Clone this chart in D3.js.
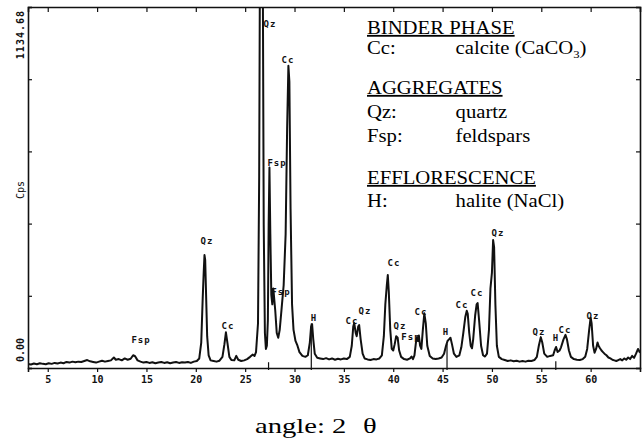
<!DOCTYPE html>
<html>
<head>
<meta charset="utf-8">
<script src="https://cdn.jsdelivr.net/npm/d3@7/dist/d3.min.js"></script>
<style>
  body { margin: 0; background: #fff; }
  .mono { font-family: "DejaVu Sans Mono", monospace; font-weight: bold; fill: #111; }
  .serif { font-family: "Liberation Serif", "Times New Roman", serif; fill: #000; }
</style>
</head>
<body>
<svg id="chart" width="644" height="446"></svg>
<script>
// XRD trace: [2 theta, counts per second]
var trace = [
  [3.0,13],[3.3,11],[3.6,14],[3.9,12],[4.2,15],[4.5,13],[4.8,12],[5.1,15],[5.4,13],[5.7,16],
  [6.0,14],[6.3,17],[6.6,15],[6.9,19],[7.2,17],[7.5,20],[7.8,18],[8.1,20],[8.4,19],[8.7,22],
  [9.0,25],[9.3,21],[9.6,19],[9.9,17],[10.2,20],[10.5,23],[10.8,20],[11.1,22],[11.4,24],[11.7,33],
  [11.9,26],[12.2,28],[12.5,24],[12.8,30],[13.1,26],[13.4,29],[13.65,40],[13.85,37],[14.1,24],[14.4,20],
  [14.7,17],[15.0,19],[15.3,16],[15.6,18],[15.9,15],[16.2,17],[16.5,19],[16.8,16],[17.1,18],[17.4,15],
  [17.7,17],[18.0,19],[18.3,16],[18.6,18],[18.9,17],[19.2,19],[19.5,16],[19.8,20],[20.1,22],[20.35,30],
  [20.55,80],[20.7,220],[20.8,300],[20.88,355],[20.95,340],[21.05,220],[21.15,100],[21.3,40],[21.5,24],[21.8,22],
  [22.1,20],[22.4,23],[22.7,35],[22.9,75],[23.05,112],[23.2,80],[23.4,35],[23.6,25],[23.9,24],[24.1,38],
  [24.3,26],[24.6,22],[24.9,24],[25.2,28],[25.5,35],[25.75,42],[25.95,38],[26.1,50],[26.3,140],[26.42,600],
  [26.5,1300],[26.78,1300],[26.88,450],[27.0,110],[27.1,60],[27.2,70],[27.3,150],[27.38,450],
  [27.46,630],[27.55,420],[27.65,230],[27.75,200],[27.85,250],[27.95,215],[28.05,180],[28.2,110],[28.35,95],[28.5,120],
  [28.7,190],[28.9,260],[29.1,420],[29.25,750],[29.38,950],[29.48,900],[29.6,500],[29.75,200],[29.9,120],[30.1,85],
  [30.3,70],[30.5,50],[30.8,38],[31.1,35],[31.35,40],[31.55,80],[31.68,130],[31.78,138],[31.9,90],[32.05,45],
  [32.3,32],[32.6,30],[32.9,28],[33.2,31],[33.5,27],[33.8,30],[34.1,26],[34.4,29],[34.7,27],[35.0,30],
  [35.3,28],[35.6,35],[35.8,70],[35.95,130],[36.05,141],[36.2,110],[36.3,100],[36.45,130],[36.55,135],[36.7,90],
  [36.9,45],[37.1,30],[37.4,27],[37.7,25],[38.0,28],[38.3,27],[38.6,30],[38.85,40],[39.05,100],[39.2,200],
  [39.35,260],[39.45,292],[39.55,240],[39.7,120],[39.85,60],[40.0,55],[40.15,75],[40.3,100],[40.45,95],[40.6,55],
  [40.8,35],[41.1,28],[41.4,26],[41.7,30],[41.85,36],[42.0,28],[42.15,40],[42.3,80],[42.42,97],[42.5,85],
  [42.6,102],[42.72,70],[42.85,60],[43.0,120],[43.15,172],[43.3,140],[43.45,70],[43.7,38],[44.0,30],[44.3,28],
  [44.6,30],[44.9,33],[45.15,45],[45.35,70],[45.5,85],[45.65,90],[45.8,95],[45.95,75],[46.15,45],[46.4,35],
  [46.7,40],[46.9,65],[47.1,110],[47.3,160],[47.45,180],[47.55,170],[47.7,110],[47.85,70],[47.98,62],[48.1,90],
  [48.3,165],[48.45,200],[48.55,204],[48.7,150],[48.9,70],[49.1,40],[49.3,36],[49.5,45],[49.7,120],[49.85,250],
  [50.0,300],[50.12,402],[50.22,380],[50.35,200],[50.5,70],[50.7,35],[51.0,28],[51.3,25],[51.6,22],[51.9,24],
  [52.2,21],[52.5,23],[52.8,20],[53.1,22],[53.4,20],[53.7,23],[54.0,22],[54.3,25],[54.55,35],[54.75,70],
  [54.95,97],[55.1,80],[55.3,45],[55.6,35],[55.9,38],[56.2,40],[56.35,55],[56.5,66],[56.65,50],[56.85,55],
  [57.0,65],[57.25,90],[57.45,104],[57.6,90],[57.8,55],[58.0,35],[58.3,28],[58.6,26],[58.9,25],[59.2,28],
  [59.45,35],[59.65,60],[59.85,120],[60.0,158],[60.1,140],[60.25,70],[60.4,48],[60.55,60],[60.7,80],[60.8,70],
  [60.95,62],[61.1,55],[61.25,50],[61.4,45],[61.6,40],[61.8,33],[62.0,30],[62.2,26],[62.4,24],[62.6,22],
  [62.8,25],[63.0,28],[63.2,24],[63.4,30],[63.6,26],[63.8,33],[64.0,28],[64.2,38],[64.4,32],[64.6,45],
  [64.8,60],[65.0,48]
];

// peak labels: text, angle, cps position
var peakText  = ["Fsp","Qz","Cc","Qz","Fsp","Cc","Fsp","H","Cc","Qz","Cc","Qz","Fsp","Cc","H","Cc","Cc","Qz","Qz","H","Cc","Qz"];
var peakAngle = [14.45,21.13,23.26,27.52,28.23,29.34,28.63,31.97,35.82,37.14,40.08,40.69,41.8,42.81,45.35,46.97,48.49,50.61,54.77,56.49,57.4,60.24];
var peakCps   = [85,399,132,1081,644,968,236,157,145,179,327,129,97,173,113,198,233,424,113,94,119,163];

// halite reference sticks
var haliteAngle = [27.37, 31.70, 45.45, 56.47];
var haliteRel   = [13, 100, 55, 15];

var xTicks = [5,10,15,20,25,30,35,40,45,50,55,60];
var yMax = 1134.68;
var yTicks = [0, 1, 2, 3, 4, 5].map(function(k) { return yMax * k / 5; });

var legendHead = ["BINDER PHASE", "AGGREGATES", "EFFLORESCENCE"];
var legendKey  = ["Cc:", "Qz:", "Fsp:", "H:"];
var legendName = ["calcite (CaCO", "quartz", "feldspars", "halite (NaCl)"];

var svg = d3.select("#chart");
var x = d3.scaleLinear().domain([3, 65]).range([28, 640]);
var y = d3.scaleLinear().domain([0, yMax]).range([368, 7]);

svg.append("defs").append("clipPath").attr("id", "plot")
  .append("rect")
    .attr("x", x.range()[0]).attr("y", y.range()[1])
    .attr("width", x.range()[1] - x.range()[0])
    .attr("height", y.range()[0] - y.range()[1]);

// axes
var gb = svg.append("g").attr("transform", "translate(0," + y(0) + ")")
  .call(d3.axisBottom(x).tickValues(xTicks).tickSize(4).tickPadding(4));
var gt = svg.append("g").attr("transform", "translate(0," + y(yMax) + ")")
  .call(d3.axisTop(x).tickValues(xTicks).tickSize(-5).tickFormat(""));
var gl = svg.append("g").attr("transform", "translate(" + x(3) + ",0)")
  .call(d3.axisLeft(y).tickValues(yTicks).tickSize(-4).tickFormat(""));
var gr = svg.append("g").attr("transform", "translate(" + x(65) + ",0)")
  .call(d3.axisRight(y).tickValues(yTicks).tickSize(-4).tickFormat(""));

[gb, gt, gl, gr].forEach(function(g) {
  g.select(".domain").attr("stroke", "#111").attr("stroke-width", 1.6);
  g.selectAll(".tick line").attr("stroke", "#111").attr("stroke-width", 1.2);
});
gb.selectAll(".tick text").attr("class", "mono").style("font-size", "10px").attr("fill", "#111");

// y labels
svg.append("text").attr("class", "mono")
  .attr("transform", "translate(24," + (y(yMax) + 3) + ") rotate(-90)")
  .attr("text-anchor", "end").style("font-size", "10px").style("letter-spacing", "1px")
  .text("1134.68");
svg.append("text").attr("class", "mono")
  .attr("transform", "translate(24," + (y(0) - 6) + ") rotate(-90)")
  .attr("text-anchor", "start").style("font-size", "10px")
  .text("0.00");
svg.append("text").attr("class", "mono")
  .attr("transform", "translate(24,190) rotate(-90)")
  .attr("text-anchor", "middle").style("font-size", "10px").style("font-weight", "normal")
  .text("Cps");

// halite sticks
svg.selectAll(".stick")
  .data(haliteAngle)
  .enter().append("line")
    .attr("class", "stick")
    .attr("x1", function(d) { return x(d); })
    .attr("x2", function(d) { return x(d); })
    .attr("y1", y(0) + 2)
    .attr("y2", function(d, i) { return y(140 * haliteRel[i] / 100); })
    .attr("stroke", "#111").attr("stroke-width", 1.2);

// trace
var line = d3.line()
  .x(function(d) { return x(d[0]); })
  .y(function(d) { return y(d[1]); });

svg.append("path")
  .datum(trace)
  .attr("clip-path", "url(#plot)")
  .attr("fill", "none")
  .attr("stroke", "#111")
  .attr("stroke-width", 2)
  .attr("stroke-linejoin", "round")
  .attr("d", line);

// peak labels
svg.selectAll(".peak")
  .data(peakText)
  .enter().append("text")
    .attr("class", "mono peak")
    .attr("x", function(d, i) { return x(peakAngle[i]); })
    .attr("y", function(d, i) { return y(peakCps[i]); })
    .attr("text-anchor", "middle")
    .attr("dominant-baseline", "middle")
    .style("font-size", "9px")
    .style("letter-spacing", "1px")
    .text(function(d) { return d; });

// legend (the scanned text is a bit wider than plain Times)
var legend = svg.append("g").attr("transform", "translate(367,0) scale(1.15,1)");
var vx = 77;
var heads = [34, 94, 184];
var rows = [54, 118, 142, 207];

legend.selectAll(".head")
  .data(legendHead)
  .enter().append("text")
    .attr("class", "serif head")
    .attr("x", 0).attr("y", function(d, i) { return heads[i]; })
    .style("font-size", "18px")
    .style("text-decoration", "underline")
    .text(function(d) { return d; });

legend.selectAll(".key")
  .data(legendKey)
  .enter().append("text")
    .attr("class", "serif key")
    .attr("x", 0).attr("y", function(d, i) { return rows[i]; })
    .style("font-size", "18px")
    .text(function(d) { return d; });

var names = legend.selectAll(".name")
  .data(legendName)
  .enter().append("text")
    .attr("class", "serif name")
    .attr("x", vx).attr("y", function(d, i) { return rows[i]; })
    .style("font-size", "18px");
names.append("tspan").text(function(d) { return d; });
names.filter(function(d, i) { return i === 0; })
  .append("tspan").attr("dy", 4).style("font-size", "11px").text("3");
names.filter(function(d, i) { return i === 0; })
  .append("tspan").attr("dy", -4).text(")");

// x axis title
var title = svg.append("text")
  .attr("class", "serif")
  .attr("transform", "translate(255,433) scale(1.3,1)")
  .style("font-size", "22px");
title.append("tspan").attr("x", 0).text("angle: 2");
title.append("tspan").attr("x", 83).text("\u03B8");
</script>
</body>
</html>
